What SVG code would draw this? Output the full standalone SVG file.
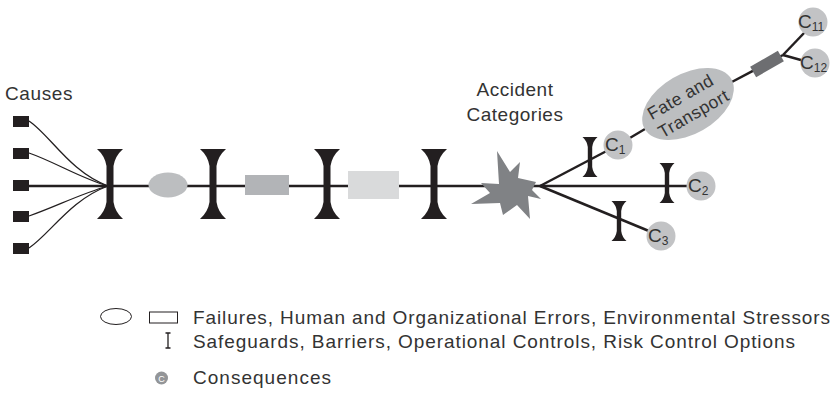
<svg xmlns="http://www.w3.org/2000/svg" width="834" height="399" viewBox="0 0 834 399">
<defs>
<style>
.t{font-family:"Liberation Sans",Arial,sans-serif;fill:#333333;}
.ln{stroke:#231f20;stroke-width:2.5;fill:none;}
.cv{stroke:#231f20;stroke-width:1.3;fill:none;}
.bar{fill:#231f20;}
.sq{fill:#231f20;}
.cons{fill:#c2c3c5;}
.ct{font-family:"Liberation Sans",Arial,sans-serif;fill:#333333;font-size:19px;}
</style>
<path id="bigBar" d="M-13,-35 L13,-35 Q5,-28 3.5,-18 L3.5,18 Q5,28 13,35 L-13,35 Q-5,28 -3.5,18 L-3.5,-18 Q-5,-28 -13,-35 Z"/>
<path id="smBar" d="M-7.5,-20 L7.5,-20 Q3,-16 2.2,-10 L2.2,10 Q3,16 7.5,20 L-7.5,20 Q-3,16 -2.2,10 L-2.2,-10 Q-3,-16 -7.5,-20 Z"/>
</defs>
<rect width="834" height="399" fill="#ffffff"/>

<g id="connectors">
<line class="ln" x1="29" y1="186" x2="540" y2="186"/>
<path class="cv" d="M29,121 C50,135 70,172 108,186"/>
<path class="cv" d="M29,153 C55,162 80,178 108,186"/>
<path class="cv" d="M29,216 C55,207 80,194 108,186"/>
<path class="cv" d="M29,248 C50,234 70,200 108,186"/>
<line class="ln" x1="540" y1="186" x2="618" y2="145"/>
<line class="ln" x1="540" y1="186" x2="701" y2="186"/>
<line class="ln" x1="540" y1="186" x2="661" y2="236"/>
<line class="ln" x1="618" y1="145" x2="645" y2="129"/>
<line class="ln" x1="728" y1="84" x2="783" y2="55"/>
<line class="ln" x1="783" y1="55" x2="805" y2="32"/>
<line class="ln" x1="783" y1="55" x2="808" y2="62"/>
</g>

<g id="causes">
<text class="t" x="5" y="100" font-size="19" letter-spacing="0.6">Causes</text>
<rect class="sq" x="13" y="116" width="16" height="11"/>
<rect class="sq" x="13" y="148" width="16" height="11"/>
<rect class="sq" x="13" y="180" width="16" height="11"/>
<rect class="sq" x="13" y="211" width="16" height="11"/>
<rect class="sq" x="13" y="243" width="16" height="11"/>
</g>

<g id="barrier1"><use href="#bigBar" class="bar" x="110" y="184"/></g>
<g id="failure1"><ellipse cx="168" cy="185" rx="19.5" ry="12.5" fill="#bcbec0"/></g>
<g id="barrier2"><use href="#bigBar" class="bar" x="213" y="184"/></g>
<g id="failure2"><rect x="245" y="175" width="44" height="20" fill="#b2b4b7"/></g>
<g id="barrier3"><use href="#bigBar" class="bar" x="327" y="184"/></g>
<g id="failure3"><rect x="348" y="171" width="51" height="28" fill="#d9dadb"/></g>
<g id="barrier4"><use href="#bigBar" class="bar" x="434" y="184"/></g>

<g id="accident">
<text class="t" x="515" y="96" font-size="19" letter-spacing="0.5" text-anchor="middle">Accident</text>
<text class="t" x="515" y="121" font-size="19" letter-spacing="0.5" text-anchor="middle">Categories</text>
<polygon fill="#808285" points="497,151 510,172 520,162 518,178 536,182 532,190 541,199 528,196 530,219 517,205 503,215 500,203 471,204 490,193 481,183 499,184"/>
</g>

<g id="barrierC1"><use href="#smBar" class="bar" x="590" y="157"/></g>
<g id="barrierC2"><use href="#smBar" class="bar" x="667" y="183"/></g>
<g id="barrierC3"><use href="#smBar" class="bar" x="619" y="221"/></g>

<g id="c1"><circle class="cons" cx="618" cy="145" r="14.5"/><text class="ct" x="605" y="151">C<tspan font-size="12" dy="3">1</tspan></text></g>
<g id="c2"><circle class="cons" cx="701" cy="186" r="14.5"/><text class="ct" x="688" y="192">C<tspan font-size="12" dy="3">2</tspan></text></g>
<g id="c3"><circle class="cons" cx="661" cy="236" r="14.5"/><text class="ct" x="648" y="242">C<tspan font-size="12" dy="3">3</tspan></text></g>

<g id="fate">
<ellipse cx="688" cy="104" rx="50" ry="30" transform="rotate(-30 688 104)" fill="#bcbec0"/>
<g transform="translate(688,104) rotate(-30)">
<text class="t" x="-3" y="-4" font-size="17.5" letter-spacing="0.5" text-anchor="middle">Fate and</text>
<text class="t" x="0" y="17" font-size="17.5" letter-spacing="0.5" text-anchor="middle">Transport</text>
</g>
</g>

<g id="process"><rect x="-16" y="-6" width="32" height="12" fill="#6d6e71" transform="translate(767,64) rotate(-30)"/></g>

<g id="c11"><circle class="cons" cx="813" cy="22" r="14.5"/><text class="ct" x="798" y="28">C<tspan font-size="12" dy="3">11</tspan></text></g>
<g id="c12"><circle class="cons" cx="815" cy="63" r="14.5"/><text class="ct" x="800" y="69">C<tspan font-size="12" dy="3">12</tspan></text></g>

<g id="legend">
<ellipse cx="116" cy="316.5" rx="15.5" ry="8" fill="none" stroke="#231f20" stroke-width="1"/>
<rect x="149.5" y="312" width="28" height="11" fill="none" stroke="#231f20" stroke-width="1"/>
<text class="t" x="193" y="324" font-size="19" textLength="637" lengthAdjust="spacing">Failures, Human and Organizational Errors, Environmental Stressors</text>
<path d="M168,333 L168,348 M165.5,333 L170.5,333 M165.5,348 L170.5,348" stroke="#231f20" stroke-width="1.3" fill="none"/>
<text class="t" x="193" y="348" font-size="19" textLength="602" lengthAdjust="spacing">Safeguards, Barriers, Operational Controls, Risk Control Options</text>
<circle cx="161.5" cy="378" r="6.5" fill="#939598"/>
<text x="161.5" y="381.5" font-family="Liberation Sans,Arial,sans-serif" font-size="9" fill="#ffffff" text-anchor="middle">C</text>
<text class="t" x="193" y="384" font-size="19" textLength="138" lengthAdjust="spacing">Consequences</text>
</g>
</svg>
